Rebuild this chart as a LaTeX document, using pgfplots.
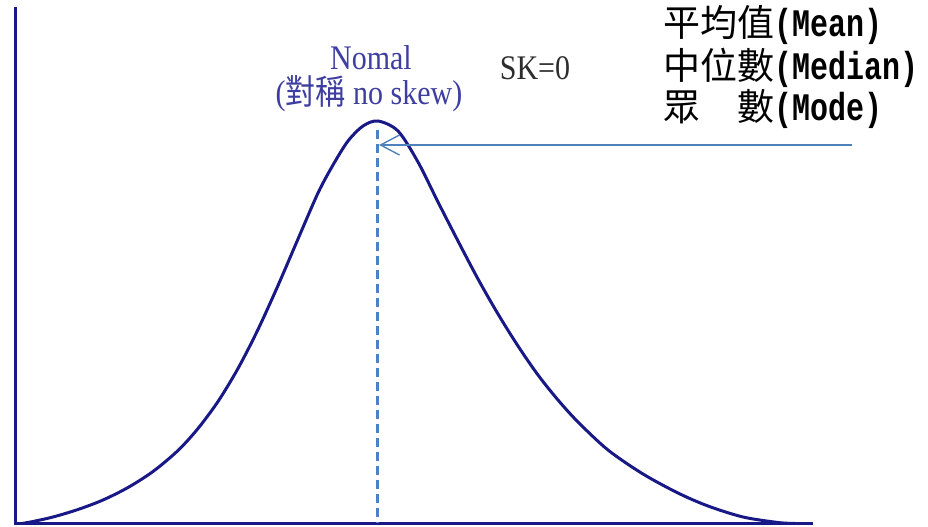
\documentclass[border=0pt]{standalone}
\usepackage{pgfplots}
\pgfplotsset{compat=1.18}
\usepackage{graphicx}
\usepackage{fontspec}
\setmainfont{Liberation Serif}
\newfontfamily\cjk{Noto Sans CJK TC}
\newfontfamily\mono{Liberation Mono}
\usetikzlibrary{arrows.meta}

\definecolor{curvenavy}{RGB}{24,24,134}
\definecolor{dashblue}{RGB}{74,130,196}
\definecolor{arrowblue}{RGB}{79,129,189}
\definecolor{labelblue}{RGB}{62,62,160}
\definecolor{darkgray}{RGB}{45,45,45}

% Latin text of the legend block, monospaced and a little taller
\newcommand\lat[1]{{\mono\bfseries\fontsize{15}{18}\selectfont\scalebox{1}[1.3]{#1}}}
\newcommand\legendline[1]{{\cjk\fontsize{18.5}{20}\selectfont #1}}

\begin{document}
\begin{tikzpicture}
\begin{axis}[
  x=0.5pt, y=0.5pt,
  xmin=0, xmax=928, ymin=0, ymax=526,
  axis line style={draw=none},
  ticks=none,
  clip=false,
]
% the two axis lines
\addplot[curvenavy, line width=1.5pt, mark=none] coordinates {(15,519) (15,2.5) (813,2.5)};

% normal (symmetric) frequency curve
\addplot[curvenavy, line width=1.5pt, mark=none, smooth] coordinates {
  (22,2.5) (33,4.5) (53,9) (78,16.5) (103,26) (128,38.5) (153,54.5) (178,75.5)
  (198,97.5) (218,124.5) (238,157.5) (258,196.5) (278,240.5) (298,287) (318,333)
  (333,361) (348,385) (363,400) (378,405)
  (398,395) (418,364) (438,324) (458,285) (478,247) (498,212) (518,180)
  (538,151) (558,126) (578,104) (608,76) (643,52) (678,33) (708,20)
  (743,9) (778,3.5) (795,2.5)
};

% mean = median = mode
\addplot[dashblue, line width=1.5pt, mark=none, dash pattern=on 4.5pt off 2.5pt]
  coordinates {(377,396) (377,3)};
\addplot[arrowblue, line width=0.7pt, mark=none, -{Straight Barb[length=9.5pt,width=10pt]}]
  coordinates {(852,381) (379,381)};

% labels
\node[anchor=base, inner sep=0, text=labelblue] at (axis cs:371,456)
  {\fontsize{15}{18}\selectfont\scalebox{1}[1.15]{Nomal}};
\node[anchor=base, inner sep=0, text=labelblue] at (axis cs:369,421)
  {\fontsize{15}{18}\selectfont\scalebox{1}[1.15]{({\cjk 對稱} no skew)}};
\node[anchor=base, inner sep=0, text=darkgray] at (axis cs:535,446)
  {\fontsize{15}{18}\selectfont\scalebox{1}[1.15]{SK=0}};

\node[anchor=base west, inner sep=0] at (axis cs:663,489)
  {\legendline{平均值}\lat{(Mean)}};
\node[anchor=base west, inner sep=0] at (axis cs:663,446)
  {\legendline{中位數}\lat{(Median)}};
\node[anchor=base west, inner sep=0] at (axis cs:663,405)
  {\legendline{眾\hspace{1em}數}\lat{(Mode)}};
\end{axis}
\end{tikzpicture}
\end{document}
